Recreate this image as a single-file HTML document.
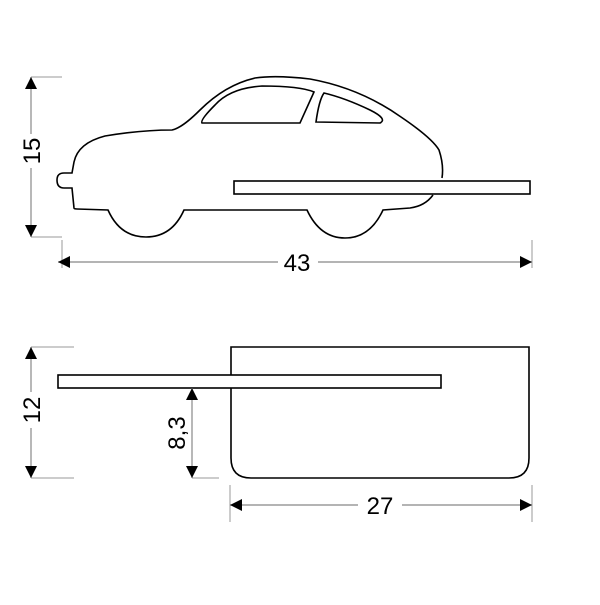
<!DOCTYPE html>
<html><head><style>html,body{margin:0;padding:0;background:#fff}</style></head>
<body>
<svg width="600" height="600" viewBox="0 0 600 600" xmlns="http://www.w3.org/2000/svg">
<defs>
<marker id="a" viewBox="0 0 12 12" refX="12" refY="6" markerWidth="12" markerHeight="12" markerUnits="userSpaceOnUse" orient="auto-start-reverse"><path d="M0,0 L12,6 L0,12 Z" fill="#000"/></marker>
</defs>
<g fill="none" stroke="#000" stroke-width="1.6">
<path d="M74,208 L72,188 L64,188 Q57,188 57,180 Q57,173 64,173 L72,173 L74,162 Q78,143 105,136 Q140,130 172,130 Q182,128 200,110 Q225,85 255,78 Q276,75 310,79 Q360,88 401,117 Q432,138 439,150 Q444,165 442,178 M433,195 Q425,206 410,208 L383,210 Q370,238 345,238 Q320,238 307,210 L184,210 Q172,237 146,237 Q120,237 108,210 L77,209 Q74,209 74,208"/>
<path d="M202,123 L300,123 L314,92 Q300,86 262,86 Q230,88 215,105 Q200,120 202,123 Z"/>
<path d="M316,122 L380,123 Q388,119 370,110 Q345,98 324,93 Q319,100 316,122 Z"/>
<rect x="234" y="181" width="296" height="13"/>
<path d="M231,347 L529,347 L529,458 Q529,478 509,478 L251,478 Q231,478 231,458 Z"/>
<rect x="58" y="375" width="383" height="13" fill="#fff"/>
</g>
<g stroke="#999" stroke-width="1" fill="none">
<path d="M31,77 H62 M31,237 H62 M62,240 V268 M532,240 V268 M31,347 H74 M31,478 H74 M192,478 H219 M230,485 V522 M532,485 V522"/>
</g>
<g stroke="#888" stroke-width="1.2" fill="none">
<line x1="31" y1="77" x2="31" y2="134" marker-start="url(#a)"/>
<line x1="31" y1="168" x2="31" y2="237" marker-end="url(#a)"/>
<line x1="58" y1="262" x2="278" y2="262" marker-start="url(#a)"/>
<line x1="318" y1="262" x2="532" y2="262" marker-end="url(#a)"/>
<line x1="31" y1="347" x2="31" y2="392" marker-start="url(#a)"/>
<line x1="31" y1="428" x2="31" y2="478" marker-end="url(#a)"/>
<line x1="192" y1="388" x2="192" y2="478" marker-start="url(#a)" marker-end="url(#a)"/>
<line x1="230" y1="505" x2="358" y2="505" marker-start="url(#a)"/>
<line x1="402" y1="505" x2="532" y2="505" marker-end="url(#a)"/>
</g>
<g font-family="Liberation Sans, sans-serif" font-size="24" fill="#000" text-anchor="middle">
<text x="297" y="271">43</text>
<text x="380" y="514">27</text>
<text transform="translate(40,151) rotate(-90)">15</text>
<text transform="translate(40,410) rotate(-90)">12</text>
<text transform="translate(185,433) rotate(-90)">8,3</text>
</g>
</svg>
</body></html>
